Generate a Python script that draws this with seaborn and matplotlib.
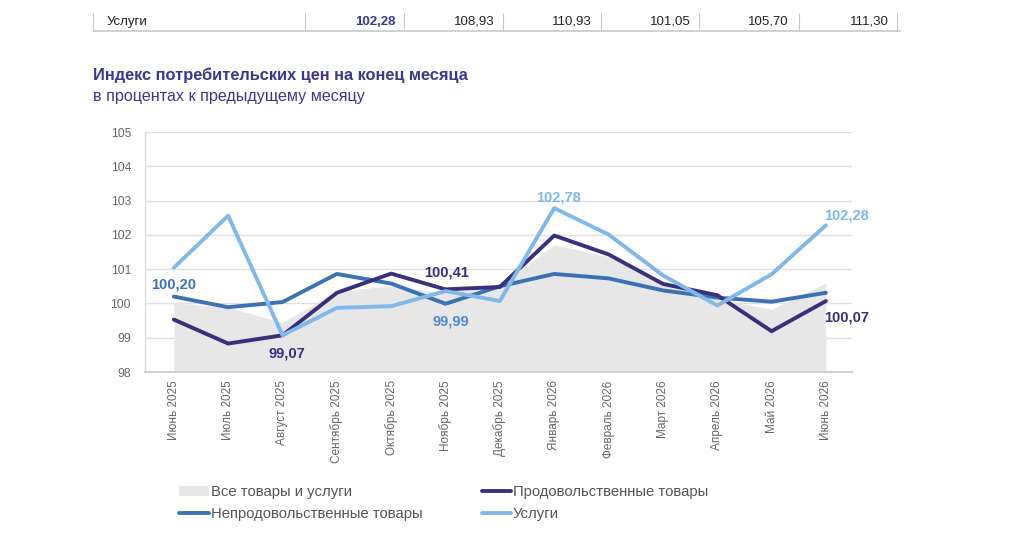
import matplotlib
matplotlib.use("Agg")
import matplotlib.pyplot as plt
import seaborn as sns
import numpy as np
import pandas as pd
from matplotlib.patches import Patch
from matplotlib.lines import Line2D

months = ["Июнь 2025", "Июль 2025", "Август 2025", "Сентябрь 2025", "Октябрь 2025",
          "Ноябрь 2025", "Декабрь 2025", "Январь 2026", "Февраль 2026", "Март 2026",
          "Апрель 2026", "Май 2026", "Июнь 2026"]
all_goods = [100.02, 99.88, 99.45, 100.35, 100.52, 100.30, 100.50, 101.72, 101.36, 100.62, 100.12, 99.83, 100.60]
food = [99.53, 98.83, 99.07, 100.31, 100.87, 100.41, 100.48, 101.98, 101.43, 100.57, 100.24, 99.19, 100.07]
nonfood = [100.20, 99.89, 100.04, 100.86, 100.58, 99.99, 100.50, 100.86, 100.73, 100.38, 100.17, 100.05, 100.31]
services = [101.04, 102.56, 99.07, 99.87, 99.92, 100.36, 100.07, 102.78, 102.01, 100.82, 99.94, 100.85, 102.28]

table_label = "Услуги"
table_values = ["102,28", "108,93", "110,93", "101,05", "105,70", "111,30"]

title = "Индекс потребительских цен на конец месяца"
subtitle = "в процентах к предыдущему месяцу"

C_FOOD = "#382f7e"
C_NONFOOD = "#3a72b6"
C_SERV = "#80b8ec"
C_FILL = "#e7e7e7"
C_TITLE = "#3b3790"

sns.set_style("white")
plt.rcParams['font.family'] = ['Liberation Sans', 'DejaVu Sans']

fig = plt.figure(figsize=(10.24, 5.51), dpi=100)
ax = fig.add_axes([145/1024, 1-372/551, (852-145)/1024, (372-132)/551])

x = np.arange(len(months))
df = pd.DataFrame({"x": x, "month": months, "all": all_goods, "food": food,
                   "nonfood": nonfood, "services": services})

ax.fill_between(df["x"], 98, df["all"], color=C_FILL, lw=0, zorder=1)
sns.lineplot(data=df, x="x", y="nonfood", color=C_NONFOOD, lw=2.8, ax=ax, zorder=3)
sns.lineplot(data=df, x="x", y="food", color=C_FOOD, lw=2.8, ax=ax, zorder=4)
sns.lineplot(data=df, x="x", y="services", color=C_SERV, lw=2.8, ax=ax, zorder=5)

ax.set_ylim(98, 105)
ax.set_xlim(-0.53, 12.48)
ax.set_yticks(range(98, 106))
ax.set_xticks(x)
ax.set_xticklabels(months, rotation=90, fontsize=8.5, color="#666666")
ax.tick_params(axis="y", labelsize=8.8, colors="#666666", length=0, pad=10)
ax.tick_params(axis="x", length=0, pad=6)
ax.set_xlabel("")
ax.set_ylabel("")
ax.grid(axis="y", color="#e0e0e0", lw=1)
ax.set_axisbelow(True)
for s in ["top", "right"]:
    ax.spines[s].set_visible(False)
ax.spines["left"].set_color("#d9d9d9")
ax.spines["bottom"].set_color("#d0d0d0")
ax.spines["bottom"].set_linewidth(1.5)

def lab(i, v, color, dx, dy):
    ax.annotate(f"{v:.2f}".replace(".", ","), (x[i], v), xytext=(dx, dy),
                textcoords="offset points", ha="center", va="center",
                fontsize=10.5, fontweight="bold", color=color, zorder=6)

lab(0, nonfood[0], C_NONFOOD, 0, 9)
lab(2, food[2], C_FOOD, 3, -13)
lab(5, food[5], C_FOOD, 1, 12)
lab(5, nonfood[5], "#4f89c8", 4, -13)
lab(7, services[7], C_SERV, 3, 8)
lab(12, services[12], C_SERV, 15, 7)
lab(12, food[12], C_FOOD, 15, -12)

# title
fig.text(93/1024, 1-75/551, title, fontsize=11.8, fontweight="bold", color=C_TITLE, va="center")
fig.text(93/1024, 1-96/551, subtitle, fontsize=11.6, color=C_TITLE, va="center")

# table row at top
fig.text(107/1024, 1-22/551, table_label, fontsize=9.5, color="#222222", va="center")
right_edges = [395, 495, 592, 691, 789, 889]
for i, (v, r) in enumerate(zip(table_values, right_edges)):
    fig.text(r/1024, 1-22/551, v, fontsize=9.5, ha="right", va="center",
             color=C_TITLE if i == 0 else "#222222",
             fontweight="bold" if i == 0 else "normal")
for sx in [93, 305, 404, 503, 601, 699, 799, 897]:
    fig.add_artist(Line2D([sx/1024, sx/1024], [1-13/551, 1-30/551], color="#c8c8c8", lw=0.8))
fig.add_artist(Line2D([93/1024, 900/1024], [1-31/551, 1-31/551], color="#c8c8c8", lw=1.2))

handles = [Patch(facecolor=C_FILL, edgecolor="none"),
           Line2D([], [], color=C_NONFOOD, lw=2.8),
           Line2D([], [], color=C_FOOD, lw=2.8),
           Line2D([], [], color=C_SERV, lw=2.8)]
labels = ["Все товары и услуги", "Непродовольственные товары",
          "Продовольственные товары", "Услуги"]
fig.legend(handles, labels, ncol=2, loc="upper left",
           bbox_to_anchor=(166/1024, 1-472/551), frameon=False,
           fontsize=10.7, labelcolor="#555555", handlelength=2.0, handletextpad=0.1,
           columnspacing=4.0, labelspacing=0.5)

fig.savefig("out.png", dpi=100)
